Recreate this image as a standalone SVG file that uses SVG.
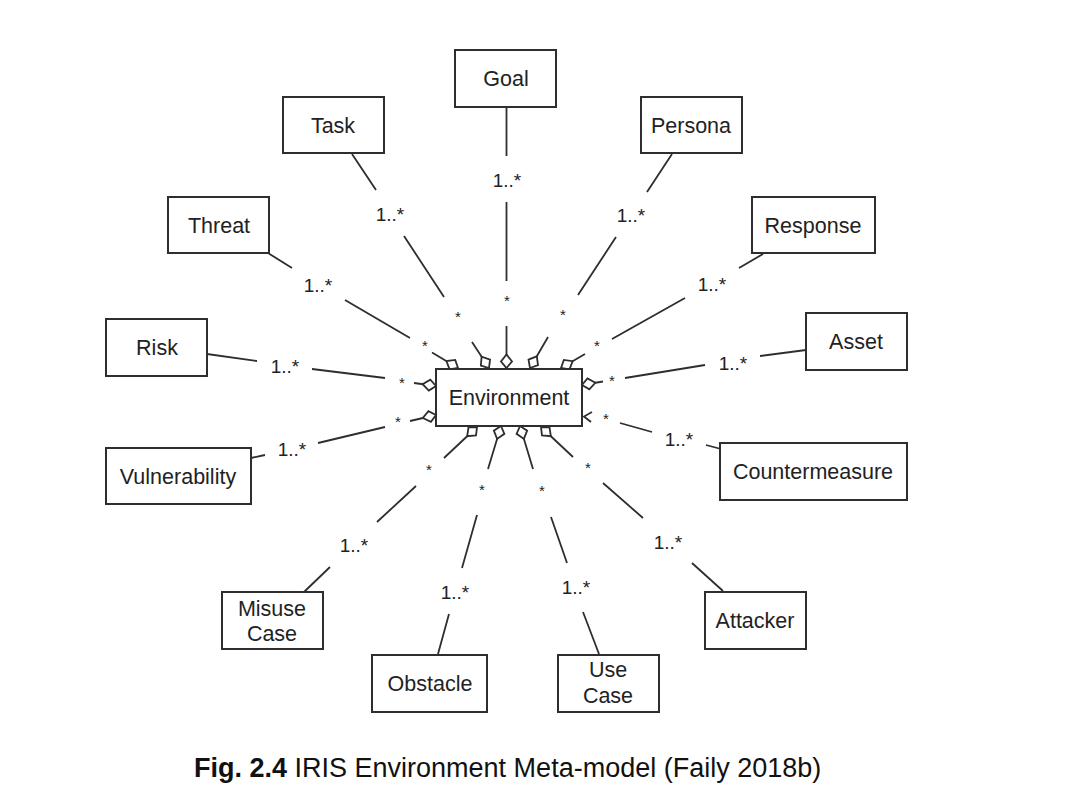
<svg xmlns="http://www.w3.org/2000/svg" width="1070" height="811" viewBox="0 0 1070 811">
<style>
.box{fill:#fff;stroke:#2e2e2e;stroke-width:2}
.lbl{font-family:"Liberation Sans",Arial,Helvetica,sans-serif;font-size:21.5px;fill:#222;text-anchor:middle}
.mul{font-family:"Liberation Sans",Arial,Helvetica,sans-serif;font-size:19px;fill:#222;text-anchor:middle}
.star{font-family:"Liberation Sans",Arial,Helvetica,sans-serif;font-size:15px;fill:#222;text-anchor:middle}
.con{fill:none;stroke:#2e2e2e;stroke-width:1.8;marker-end:url(#dia)}
.plain{fill:none;stroke:#2e2e2e;stroke-width:1.8}
.cap{font-family:"Liberation Sans",Arial,Helvetica,sans-serif;font-size:27px;fill:#111}
</style>
<defs>
<marker id="dia" viewBox="-16 -8 20 16" markerWidth="20" markerHeight="16" refX="0" refY="0" orient="auto" markerUnits="userSpaceOnUse" overflow="visible">
<path d="M0,0 L-6.5,-5.5 L-13.5,0 L-6.5,5.5 Z" fill="#fff" stroke="#2e2e2e" stroke-width="1.8"/>
</marker>
</defs>
<rect width="1070" height="811" fill="#fff"/>

<g id="connectors">
<path id="c-goal" class="con" d="M506.5,107 L506.5,156 M506.5,202 L506.5,281 M506.5,326 L506.5,368"/>
<path id="c-task" class="con" d="M352,154 L376,190 M404,236 L444,297 M472,342 L489,368"/>
<path id="c-threat" class="con" d="M268,253 L292,268 M345,300 L410,338 M432,352.5 L458,368"/>
<path id="c-risk" class="con" d="M207,354 L257,361 M312,369 L385,378 M414,383 L436,386"/>
<path id="c-vuln" class="con" d="M251,458 L265,455 M318,443 L385,427 M410,421 L436,415"/>
<path id="c-misuse" class="con" d="M304,592 L330,567 M377,522 L416,486 M444,458 L477,427"/>
<path id="c-obstacle" class="con" d="M438,654 L449,614 M462,568 L477,515 M488,469 L501,426"/>
<path id="c-usecase" class="con" d="M599,654 L583,612 M567,563 L551,517 M533,469 L520,426"/>
<path id="c-attacker" class="con" d="M723,591 L692,563 M643,518 L603,483 M573,457 L541,427"/>
<path id="c-counter" class="plain" d="M721,449 L706,445 M652,432 L620,423 M592,412 L584,416.5 L591,422"/>
<path id="c-asset" class="con" d="M806,350 L760,356 M705,365 L625,378 M603,381.5 L582,385"/>
<path id="c-response" class="con" d="M763,254 L739,268 M685,298 L612,339 M585,354 L561,368"/>
<path id="c-persona" class="con" d="M672,154 L647,192 M616,237 L578,295 M548,337 L530,368"/>

<text class="mul" x="507" y="187">1..*</text>
<text class="mul" x="390" y="221">1..*</text>
<text class="mul" x="318" y="292">1..*</text>
<text class="mul" x="285" y="373">1..*</text>
<text class="mul" x="292" y="456">1..*</text>
<text class="mul" x="354" y="552">1..*</text>
<text class="mul" x="455" y="599">1..*</text>
<text class="mul" x="576" y="594">1..*</text>
<text class="mul" x="668" y="549">1..*</text>
<text class="mul" x="679" y="446">1..*</text>
<text class="mul" x="733" y="370">1..*</text>
<text class="mul" x="712" y="291">1..*</text>
<text class="mul" x="631" y="222">1..*</text>

<text class="star" x="507" y="306">*</text>
<text class="star" x="458" y="322">*</text>
<text class="star" x="425" y="351">*</text>
<text class="star" x="402" y="388">*</text>
<text class="star" x="398" y="427">*</text>
<text class="star" x="429" y="475">*</text>
<text class="star" x="482" y="495">*</text>
<text class="star" x="542" y="496">*</text>
<text class="star" x="588" y="473">*</text>
<text class="star" x="606" y="424">*</text>
<text class="star" x="612" y="386">*</text>
<text class="star" x="597" y="351">*</text>
<text class="star" x="563" y="320">*</text>
</g>

<g id="environment"><rect class="box" x="436" y="369" width="146" height="57"/><text class="lbl" x="509" y="405">Environment</text></g>
<g id="goal"><rect class="box" x="455" y="50" width="101" height="57"/><text class="lbl" x="506" y="86">Goal</text></g>
<g id="task"><rect class="box" x="283" y="97" width="101" height="56"/><text class="lbl" x="333" y="133">Task</text></g>
<g id="threat"><rect class="box" x="168" y="197" width="101" height="56"/><text class="lbl" x="219" y="233">Threat</text></g>
<g id="risk"><rect class="box" x="106" y="319" width="101" height="57"/><text class="lbl" x="157" y="355">Risk</text></g>
<g id="vulnerability"><rect class="box" x="106" y="448" width="145" height="56"/><text class="lbl" x="178" y="484">Vulnerability</text></g>
<g id="misuse-case"><rect class="box" x="222" y="592" width="101" height="57"/><text class="lbl" x="272" y="615.5">Misuse</text><text class="lbl" x="272" y="640.5">Case</text></g>
<g id="obstacle"><rect class="box" x="372" y="655" width="115" height="57"/><text class="lbl" x="430" y="691">Obstacle</text></g>
<g id="use-case"><rect class="box" x="558" y="655" width="101" height="57"/><text class="lbl" x="608" y="677">Use</text><text class="lbl" x="608" y="703">Case</text></g>
<g id="attacker"><rect class="box" x="705" y="592" width="101" height="57"/><text class="lbl" x="755" y="628">Attacker</text></g>
<g id="countermeasure"><rect class="box" x="720" y="443" width="187" height="57"/><text class="lbl" x="813" y="479">Countermeasure</text></g>
<g id="asset"><rect class="box" x="806" y="313" width="101" height="57"/><text class="lbl" x="856" y="349">Asset</text></g>
<g id="response"><rect class="box" x="752" y="197" width="123" height="56"/><text class="lbl" x="813" y="233">Response</text></g>
<g id="persona"><rect class="box" x="641" y="97" width="101" height="56"/><text class="lbl" x="691" y="133">Persona</text></g>

<text class="cap" x="194" y="777"><tspan font-weight="bold">Fig. 2.4</tspan> IRIS Environment Meta-model (Faily 2018b)</text>
</svg>
